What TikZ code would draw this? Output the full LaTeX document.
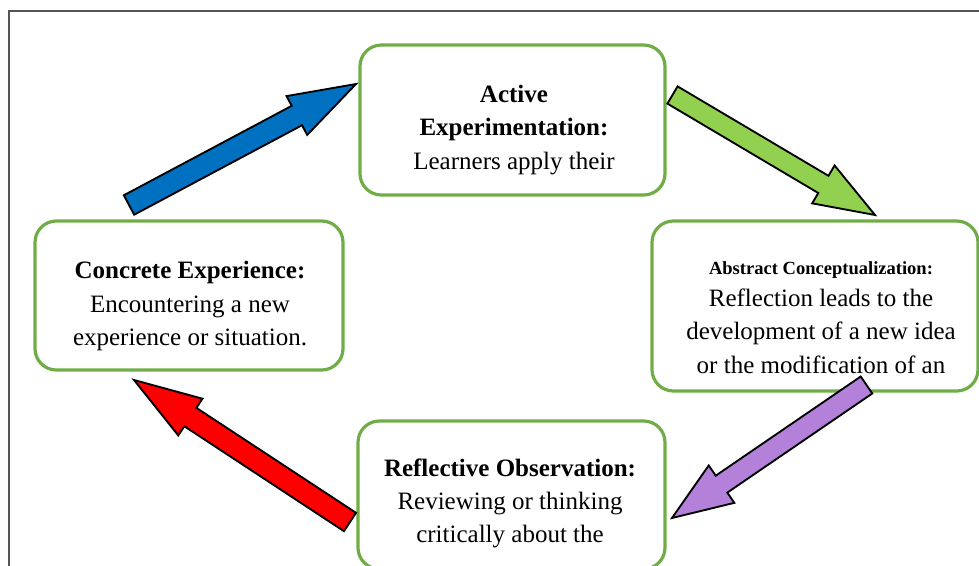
\documentclass[tikz,border=0pt]{standalone}
\usepackage{fontspec}
\setmainfont{Liberation Serif}
\usetikzlibrary{calc}

\definecolor{boxgreen}{HTML}{70AD47}
\definecolor{arrblue}{HTML}{0070C0}
\definecolor{arrgreen}{HTML}{92D050}
\definecolor{arrpurple}{HTML}{B381D9}
\definecolor{arrred}{HTML}{FF0000}
\definecolor{framegray}{HTML}{555555}

% Block arrow from a tail coordinate to a tip coordinate.
% #1 tail, #2 tip, #3 fill colour, #4 half shaft width,
% #5 half head width, #6 head length
\newcommand{\blockarrow}[6]{%
  \coordinate (#1-base) at ($(#2)!#6!(#1)$);
  \draw[arrowline, fill=#3]
    ($(#1)!#4!90:(#2)$) -- ($(#1-base)!#4!90:(#2)$)
    -- ($(#1-base)!#5!90:(#2)$) -- (#2)
    -- ($(#1-base)!#5!-90:(#2)$) -- ($(#1-base)!#4!-90:(#2)$)
    -- ($(#1)!#4!-90:(#2)$) -- cycle;
}

\begin{document}
\begin{tikzpicture}[x=0.75pt, y=-0.75pt,
  stage/.style={draw=boxgreen, line width=2.4pt, rounded corners=16pt,
    fill=white, inner sep=0pt},
  stagetext/.style={align=center, inner sep=0pt,
    font=\fontsize{18.75}{25}\selectfont},
  arrowline/.style={draw=black, line width=1.4pt, line join=miter}]

\useasboundingbox (0,0) rectangle (979,565);
\clip (0,0) rectangle (979,565);

% outer frame
\draw[framegray, line width=1.5pt] (9,11) rectangle (1100,700);

% the four stages of the cycle
\node[stage, minimum width=228.75pt, minimum height=112.5pt] (active) at (512.5,120) {};
\node[stage, minimum width=231pt, minimum height=111.75pt] (concrete) at (189,295.5) {};
\node[stage, minimum width=244.5pt, minimum height=127.5pt] (abstract) at (815,306) {};
\node[stage, minimum width=230.25pt, minimum height=111pt] (reflective) at (511.5,495) {};

\node[stagetext] (activetext) at (514,130)
  {\textbf{Active}\\\textbf{Experimentation:}\\Learners apply their};
\node[stagetext] (concretetext) at (190,306)
  {\textbf{Concrete Experience:}\\Encountering a new\\experience or situation.};
\node[stagetext] (abstracttext) at (821,317.5)
  {{\fontsize{13.9}{16}\selectfont\bfseries Abstract Conceptualization:}\\[-1pt]
   Reflection leads to the\\development of a new idea\\or the modification of an};
\node[stagetext] (reflectivetext) at (510,503.5)
  {\textbf{Reflective Observation:}\\Reviewing or thinking\\critically about the};

% arrow ends
\coordinate (bluetail) at (129,205);
\coordinate (bluetip) at (356,84);
\coordinate (greentail) at (672.5,95);
\coordinate (greentip) at (875,215);
\coordinate (purpletail) at (866.5,385);
\coordinate (purpletip) at (672,518);
\coordinate (redtail) at (350,522);
\coordinate (redtip) at (134,380);

\blockarrow{bluetail}{bluetip}{arrblue}{8.25pt}{16.5pt}{50.25pt}
\blockarrow{greentail}{greentip}{arrgreen}{7.5pt}{16.5pt}{45pt}
\blockarrow{purpletail}{purpletip}{arrpurple}{7.7pt}{17pt}{45pt}
\blockarrow{redtail}{redtip}{arrred}{8.25pt}{16.5pt}{50.6pt}

\end{tikzpicture}
\end{document}
